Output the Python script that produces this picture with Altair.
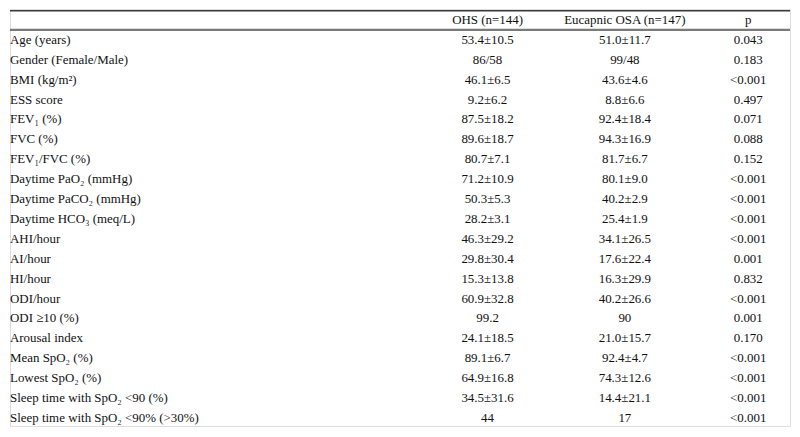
import altair as alt
import pandas as pd

headers = ["", "OHS (n=144)", "Eucapnic OSA (n=147)", "p"]
labels = [
    "Age (years)", "Gender (Female/Male)", "BMI (kg/m²)", "ESS score",
    "FEV₁ (%)", "FVC (%)", "FEV₁/FVC (%)", "Daytime PaO₂ (mmHg)",
    "Daytime PaCO₂ (mmHg)", "Daytime HCO₃ (meq/L)", "AHI/hour", "AI/hour",
    "HI/hour", "ODI/hour", "ODI ≥10 (%)", "Arousal index", "Mean SpO₂ (%)",
    "Lowest SpO₂ (%)", "Sleep time with SpO₂ <90 (%)",
    "Sleep time with SpO₂ <90% (>30%)",
]
ohs = [
    "53.4±10.5", "86/58", "46.1±6.5", "9.2±6.2", "87.5±18.2", "89.6±18.7",
    "80.7±7.1", "71.2±10.9", "50.3±5.3", "28.2±3.1", "46.3±29.2", "29.8±30.4",
    "15.3±13.8", "60.9±32.8", "99.2", "24.1±18.5", "89.1±6.7", "64.9±16.8",
    "34.5±31.6", "44",
]
osa = [
    "51.0±11.7", "99/48", "43.6±4.6", "8.8±6.6", "92.4±18.4", "94.3±16.9",
    "81.7±6.7", "80.1±9.0", "40.2±2.9", "25.4±1.9", "34.1±26.5", "17.6±22.4",
    "16.3±29.9", "40.2±26.6", "90", "21.0±15.7", "92.4±4.7", "74.3±12.6",
    "14.4±21.1", "17",
]
pvals = [
    "0.043", "0.183", "<0.001", "0.497", "0.071", "0.088", "0.152", "<0.001",
    "<0.001", "<0.001", "<0.001", "0.001", "0.832", "<0.001", "0.001", "0.170",
    "<0.001", "<0.001", "<0.001", "<0.001",
]

W, H = 784, 419
FONT = "Liberation Serif"
FS = 13
TXT = "#111111"

cols = ["OHS", "OSA", "p"]
col_x = {"OHS": 480, "OSA": 618, "p": 742}

rows = []
for j, c in enumerate(cols):
    rows.append({"row": 0, "col": c, "text": headers[j + 1]})
for i in range(len(labels)):
    for c, arr in zip(cols, [ohs, osa, pvals]):
        rows.append({"row": i + 1, "col": c, "text": arr[i]})
vals = pd.DataFrame(rows)
labs = pd.DataFrame({"row": list(range(1, len(labels) + 1)), "text": labels})
lines = pd.DataFrame({"row": [-0.47, 0.5], "kind": ["top", "head"]})

yscale = alt.Scale(domain=[-0.55, 20.4], reverse=True, nice=False, zero=False)
y = alt.Y("row:Q", scale=yscale, axis=None)

base_vals = alt.Chart(vals)
value_layers = [
    base_vals.transform_filter(alt.datum.col == c).mark_text(
        font=FONT, fontSize=FS, color=TXT, align="center", baseline="middle"
    ).encode(x=alt.value(col_x[c]), y=y, text="text:N")
    for c in cols
]

labtxt = alt.Chart(labs).mark_text(
    font=FONT, fontSize=FS, color=TXT, align="left", baseline="middle"
).encode(
    x=alt.value(0),
    y=y,
    text="text:N",
)

rules = alt.Chart(lines).mark_rule().encode(
    x=alt.value(0),
    x2=alt.value(W),
    y=y,
    color=alt.Color("kind:N", scale=alt.Scale(domain=["top", "head"], range=["#3a3a3a", "#7a7a7a"]), legend=None),
    strokeWidth=alt.StrokeWidth("kind:N", scale=alt.Scale(domain=["top", "head"], range=[1.5, 2.2]), legend=None),
)

chart = alt.layer(rules, labtxt, *value_layers).properties(
    width=W, height=H, padding=0
).configure_view(strokeWidth=0).configure(background="white")

chart.save("out.html", embed_options={"renderer": "svg", "actions": False})
